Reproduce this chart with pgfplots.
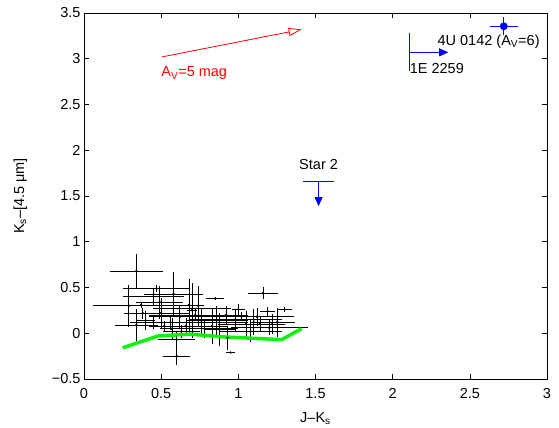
\documentclass[border=0pt]{standalone}
\usepackage{fontspec}
\setmainfont{Liberation Sans}
\usepackage{pgfplots}
\usepackage{pgfplotstable}
\pgfplotsset{compat=1.18}
\usetikzlibrary{arrows.meta}

\definecolor{mgreen}{rgb}{0.05,0.95,0.05}

% J-Ks, Ks-[4.5], errors
\pgfplotstableread{
x     y      ex    ey
0.34  0.68   0.17  0.19
1.16  0.44   0.10  0.07
1.30  0.26   0.05  0.03
1.19  0.24   0.05  0.05
0.85  0.38   0.06  0.02
0.37  0.31   0.31  0.03
0.60  -0.25  0.09  0.10
0.60  -0.07  0.12  0.10
0.95  -0.21  0.03  0.01
0.93  -0.05  0.01  0.13
0.58  0.43   0.19  0.24
0.47  0.49   0.22  0.04
0.29  0.30   0.02  0.23
0.49  0.34   0.15  0.18
0.68  0.31   0.04  0.28
0.34  0.09   0.14  0.17
0.38  0.22   0.12  0.06
0.50  0.22   0.18  0.16
0.62  0.18   0.20  0.12
0.70  0.27   0.25  0.15
0.72  0.20   0.30  0.06
0.76  0.12   0.30  0.14
0.56  0.12   0.26  0.08
0.66  0.08   0.24  0.09
0.45  0.12   0.12  0.07
0.78  0.05   0.22  0.10
0.86  0.14   0.20  0.16
0.92  0.20   0.14  0.10
0.98  0.15   0.30  0.12
1.05  0.10   0.18  0.14
1.12  0.18   0.24  0.10
1.20  0.06   0.25  0.08
1.25  0.12   0.12  0.16
1.08  0.02   0.20  0.12
0.83  0.08   0.10  0.20
0.74  0.30   0.04  0.22
0.57  0.05   0.08  0.12
0.63  0.02   0.12  0.07
1.00  0.26   0.04  0.06
0.40  0.14   0.06  0.10
0.88  0.04   0.10  0.18
1.14  0.10   0.16  0.08
0.52  0.08   0.10  0.05
0.70  0.25   0.03  0.30
0.45  0.40   0.20  0.10
1.02  0.18   0.25  0.05
1.10  0.12   0.02  0.14
1.22  0.10   0.02  0.11
}\stars

\begin{document}
\begin{tikzpicture}[font=\fontsize{14.5bp}{17bp}\selectfont]
\begin{axis}[
  name=ax,
  at={(0,0)}, anchor=south west,
  scale only axis,
  width=463bp, height=366bp,
  xmin=0, xmax=3, ymin=-0.5, ymax=3.5,
  xtick={0,0.5,1,1.5,2,2.5,3},
  xticklabels={0,0.5,1,1.5,2,2.5,3},
  ytick={-0.5,0,0.5,1,1.5,2,2.5,3,3.5},
  yticklabels={−0.5,0,0.5,1,1.5,2,2.5,3,3.5},
  /pgf/number format/assume math mode=true,
  tick align=inside,
  major tick length=5bp,
  axis line style={line width=0.8bp},
  every tick/.style={black, line width=0.6bp},
  xlabel={J–K\textsubscript{s}},
  ylabel={K\textsubscript{s}–[4.5 μm]},
  xticklabel style={yshift=-6bp},
  xlabel style={yshift=-7bp},
  ylabel style={yshift=18bp},
]
% field stars with errors
\addplot[black, line width=0.7bp, only marks, mark=*, mark size=0.8bp,
  error bars/.cd, x dir=both, x explicit, y dir=both, y explicit,
  error mark=none, error bar style={line width=0.7bp}]
  table[x=x, y=y, x error=ex, y error=ey] {\stars};
% green model line
\addplot[mgreen, line width=3.5bp, no marks] coordinates {
  (0.25,-0.16) (0.48,-0.03) (0.69,-0.01) (0.90,-0.04) (1.28,-0.07) (1.41,0.05)
};
% reddening vector
\addplot[red, line width=0.8bp, no marks,
  -{Triangle[open, length=13bp, width=8bp]}] coordinates {(0.505,3.02) (1.41,3.32)};
\node[red, anchor=west, inner sep=0pt] at (axis cs:0.50,2.84) {A\textsubscript{V}=5 mag};
% 4U 0142
\addplot[blue, line width=0.8bp, only marks, mark=*, mark size=3.5bp,
  error bars/.cd, x dir=both, x explicit, y dir=both, y explicit,
  error mark=none, error bar style={line width=0.8bp}]
  coordinates {(2.72,3.355) +- (0.09,0.10)};
\node[anchor=west, inner sep=0pt] at (axis cs:2.29,3.19) {4U 0142 (A\textsubscript{V}=6)};
% 1E 2259
\addplot[blue, line width=0.8bp, no marks] coordinates {(2.11,3.28) (2.11,2.87)};
\addplot[blue, line width=0.8bp, no marks,
  -{Triangle[length=9bp, width=8bp]}] coordinates {(2.11,3.07) (2.36,3.07)};
\node[anchor=west, inner sep=0pt] at (axis cs:2.11,2.89) {1E 2259};
% Star 2
\addplot[blue, line width=0.8bp, no marks] coordinates {(1.42,1.66) (1.62,1.66)};
\addplot[blue, line width=0.8bp, no marks,
  -{Triangle[length=9bp, width=8bp]}] coordinates {(1.52,1.66) (1.52,1.39)};
\node[inner sep=0pt] at (axis cs:1.52,1.84) {Star 2};
\end{axis}
\pgfresetboundingbox
\path[use as bounding box] ([shift={(-84bp,-49bp)}]ax.south west) rectangle ([shift={(12bp,13bp)}]ax.north east);
\end{tikzpicture}
\end{document}
